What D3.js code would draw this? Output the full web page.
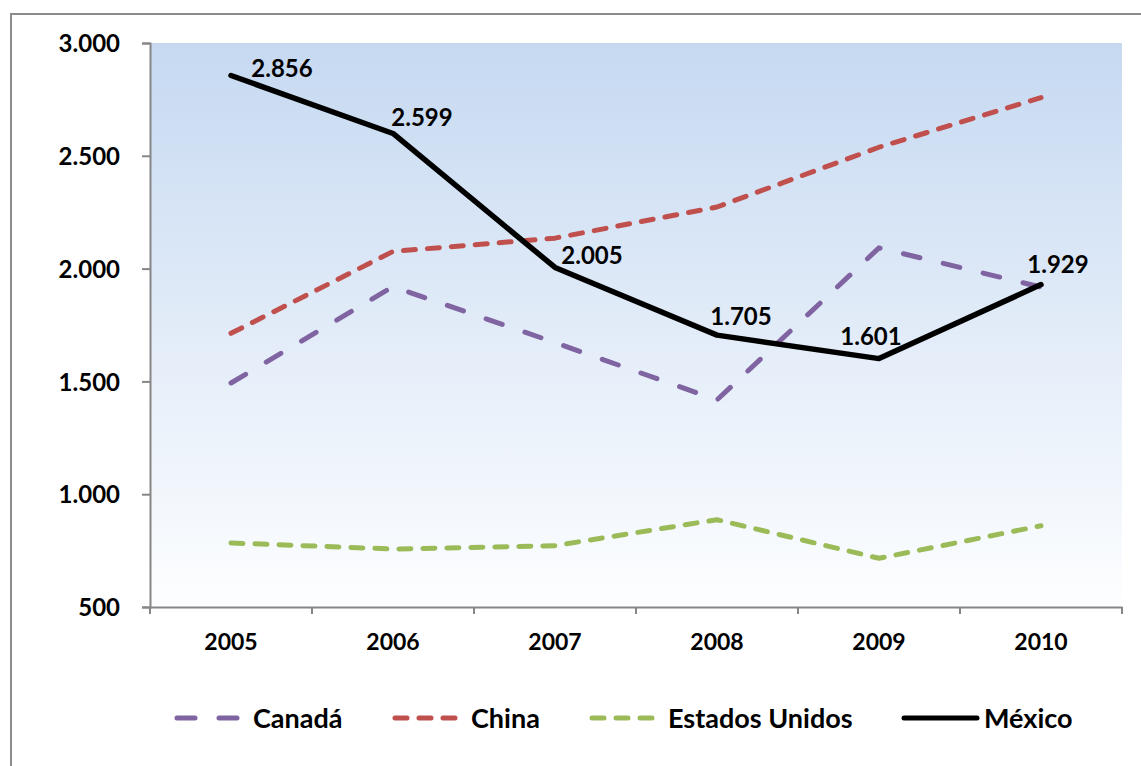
<!DOCTYPE html>
<html>
<head>
<meta charset="utf-8">
<script src="https://cdn.jsdelivr.net/npm/d3@7"></script>
<style>
  body { margin: 0; background: #fff; }
  svg text { font-family: Lato, "Open Sans", sans-serif; font-weight: bold; fill: #000; }
</style>
</head>
<body>
<svg id="chart" width="1141" height="766"></svg>
<script>
// data
var years = ["2005", "2006", "2007", "2008", "2009", "2010"];
var canada = [1493, 1920, 1672, 1418, 2092, 1918];
var china = [1713, 2076, 2135, 2273, 2538, 2758];
var estadosUnidos = [784, 757, 772, 887, 716, 860];
var mexico = [2856, 2599, 2005, 1705, 1601, 1929];
var yTicks = [500, 1000, 1500, 2000, 2500, 3000];

var seriesNames = ["Canadá", "China", "Estados Unidos", "México"];
var seriesValues = [canada, china, estadosUnidos, mexico];

// styling
var colors = ["#8064a2", "#c0504d", "#9bbb59", "#000000"];
var dashes = ["17,24", "12,12", "12,12", null];
// label nudges for the México values (dx, dy from the point)
var labelDx = [51, 29, 37, 24, -8, 17];
var labelDy = [-7, -16, -12, -19, -22, -20];

var svg = d3.select("#chart");
var margin = {left: 150, top: 43, right: 1122, bottom: 607};

var x = d3.scaleBand().domain(years).range([margin.left, margin.right]);
var y = d3.scaleLinear().domain([500, 3000]).range([margin.bottom, margin.top]);

// outer frame
svg.append("rect")
  .attr("x", 11).attr("y", 14)
  .attr("width", 1160).attr("height", 780)
  .attr("fill", "none").attr("stroke", "#8c8c8c").attr("stroke-width", 2);

// plot background gradient
var grad = svg.append("defs").append("linearGradient")
  .attr("id", "bg").attr("x1", 0).attr("y1", 0).attr("x2", 0).attr("y2", 1);
grad.append("stop").attr("offset", "0%").attr("stop-color", "#c6d9f1");
grad.append("stop").attr("offset", "100%").attr("stop-color", "#fdfeff");

svg.append("rect")
  .attr("x", margin.left).attr("y", margin.top)
  .attr("width", margin.right - margin.left)
  .attr("height", margin.bottom - margin.top)
  .attr("fill", "url(#bg)");

// y axis
var yAxis = svg.append("g")
  .attr("transform", "translate(" + margin.left + ",0)")
  .call(d3.axisLeft(y).tickValues(yTicks).tickSize(8).tickPadding(22)
    .tickFormat(function(d) { return d3.format(",")(d).replace(",", "."); }));
yAxis.select(".domain").attr("stroke", "#868686").attr("stroke-width", 2);
yAxis.selectAll(".tick line").attr("stroke", "#868686").attr("stroke-width", 2);
yAxis.selectAll("text").style("font-size", "24px").attr("dy", "0.36em");

// x axis
var xAxis = svg.append("g")
  .attr("transform", "translate(0," + margin.bottom + ")")
  .call(d3.axisBottom(x).tickSize(0).tickPadding(27));
xAxis.select(".domain").attr("stroke", "#868686").attr("stroke-width", 2);
xAxis.selectAll("text").style("font-size", "23px");
// tick marks sit between the categories
var bounds = years.map(function(d) { return x(d); }).concat([margin.right]);
xAxis.selectAll(".sep").data(bounds).enter().append("line")
  .attr("class", "sep")
  .attr("x1", function(d) { return d; }).attr("x2", function(d) { return d; })
  .attr("y1", 0).attr("y2", 7)
  .attr("stroke", "#868686").attr("stroke-width", 2);

var line = d3.line()
  .x(function(d, i) { return x(years[i]) + x.bandwidth() / 2; })
  .y(function(d) { return y(d); });

seriesValues.forEach(function(vals, s) {
  svg.append("path")
    .datum(vals)
    .attr("d", line)
    .attr("fill", "none")
    .attr("stroke", colors[s])
    .attr("stroke-width", s == 3 ? 5.5 : 5)
    .attr("stroke-linecap", "round")
    .attr("stroke-linejoin", "round")
    .attr("stroke-dasharray", dashes[s]);
});

// México value labels
svg.append("g").selectAll("text")
  .data(mexico).enter().append("text")
  .attr("x", function(d, i) { return x(years[i]) + x.bandwidth() / 2 + labelDx[i]; })
  .attr("y", function(d, i) { return y(d) + labelDy[i]; })
  .attr("text-anchor", "middle")
  .attr("dy", "0.36em")
  .style("font-size", "24px")
  .text(function(d) { return d3.format(".3f")(d / 1000); });

// legend
var legendX = [175, 393, 590, 902];
var legend = svg.append("g");
seriesNames.forEach(function(name, s) {
  var g = legend.append("g").attr("transform", "translate(" + legendX[s] + ",718)");
  g.append("line")
    .attr("x1", 2).attr("x2", s == 3 ? 75 : 63)
    .attr("stroke", colors[s])
    .attr("stroke-width", 5)
    .attr("stroke-linecap", "round")
    .attr("stroke-dasharray", s == 0 ? "18,24" : (s == 3 ? null : "12,12"));
  g.append("text")
    .attr("x", s == 3 ? 82 : 78)
    .attr("dy", "0.36em")
    .style("font-size", "27px")
    .text(name);
});
</script>
</body>
</html>
